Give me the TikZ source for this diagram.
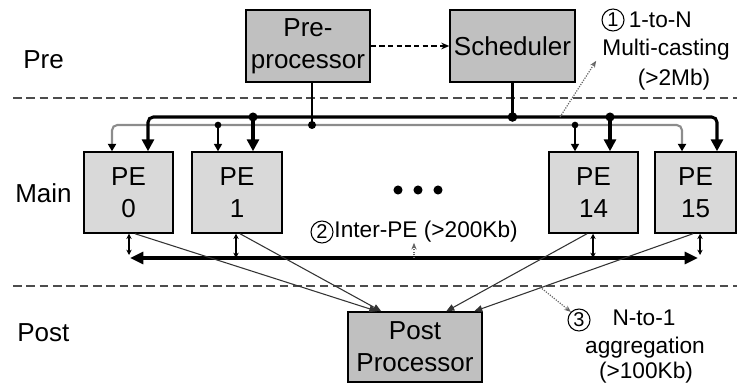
\documentclass[tikz,border=0pt]{standalone}
\usepackage{fontspec}
\setmainfont{Liberation Sans}
\usetikzlibrary{arrows.meta, positioning, calc}
\definecolor{peGray}{HTML}{D9D9D9}
\definecolor{ctlGray}{HTML}{C0C0C0}
\definecolor{busGray}{HTML}{8C8C8C}

\begin{document}
\begin{tikzpicture}[x=0.75pt,y=-0.75pt,
  ctlbox/.style={draw,line width=1.1pt,fill=ctlGray,inner sep=0pt,align=center,font=\fontsize{19.5}{24}\selectfont},
  pebox/.style={draw,line width=1.1pt,fill=peGray,inner sep=0pt,align=center,minimum height=60.75pt,font=\fontsize{19.5}{24}\selectfont},
  stage/.style={anchor=west,inner sep=0pt,font=\fontsize{19.5}{24}\selectfont},
  note/.style={inner sep=0pt,font=\fontsize{17}{20}\selectfont},
  numcirc/.style={circle,draw,line width=0.8pt,inner sep=0pt,minimum size=16.5pt,font=\fontsize{15}{15}\selectfont},
  sep/.style={dash pattern=on 6.5pt off 3.5pt,line width=1.1pt,draw=black!70},
  bigbus/.style={line width=2.3pt,rounded corners=4pt},
  graybus/.style={line width=1.6pt,draw=busGray,rounded corners=4pt},
  bigtip/.style={-{Triangle[length=9pt,width=9pt]}},
  tap/.style={line width=1.1pt,-{Triangle[length=5.5pt,width=6pt]}},
  port/.style={line width=0.9pt,{Stealth[length=4pt,width=4pt]}-{Stealth[length=4pt,width=4pt]}},
  collect/.style={line width=0.8pt,draw=black!80,-{Triangle[length=6pt,width=5pt]}},
  callout/.style={densely dotted,line width=0.9pt,draw=black!60,-{Stealth[length=5pt,width=4pt]}}
]
\useasboundingbox (0,0) rectangle (737,388);

% stages
\draw[sep] (13,98) -- (737,98);
\draw[sep] (13,286) -- (737,286);
\node[stage] (prelab) at (23,60) {Pre};
\node[stage] (mainlab) at (15,193) {Main};
\node[stage] (postlab) at (17,333) {Post};

% control boxes
\node[ctlbox,minimum width=93pt,minimum height=54pt] (pre) at (308,46) {Pre-\\processor};
\node[ctlbox,minimum width=93.75pt,minimum height=54pt] (sched) at (512.5,46) {Scheduler};
\draw[dash pattern=on 4pt off 2.5pt,line width=0.9pt,-{Stealth[length=6pt,width=5pt]}] (pre.east) -- (sched.west);

% PEs
\node[pebox,minimum width=66.75pt] (pe0) at (128.5,192.5) {PE\\0};
\node[pebox,minimum width=67.5pt] (pe1) at (237,192.5) {PE\\1};
\node[pebox,minimum width=66.75pt] (pe14) at (593.5,192.5) {PE\\14};
\node[pebox,minimum width=60.75pt] (pe15) at (695.5,192.5) {PE\\15};
\foreach \x in {398,418,438} \fill (\x,190) circle (3.4pt);

\node[ctlbox,minimum width=100.5pt,minimum height=52.5pt] (post) at (415,347) {Post\\Processor};

% multicast buses
\coordinate (bl) at (148,117); \coordinate (br) at (717,117);
\coordinate (gl) at (112,125); \coordinate (gr) at (682,125);
\coordinate (b1) at (253,117); \coordinate (b14) at (610,117);
\coordinate (g1) at (218,125); \coordinate (g14) at (575,125);
\coordinate (gp) at (312,125);
\coordinate (m1) at (560,117);

\draw[graybus,{Triangle[length=5.5pt,width=6pt,color=black]}-{Triangle[length=5.5pt,width=6pt,color=black]}]
  (pe0.north -| gl) |- (gr) -- (pe15.north -| gr);
\draw[bigbus,{Triangle[length=9pt,width=9pt]}-{Triangle[length=9pt,width=9pt]}]
  (pe0.north -| bl) |- (br) -- (pe15.north -| br);

\draw[line width=1.3pt] (pre.south -| gp) -- (gp);
\fill (gp) circle (3pt);
\draw[line width=2.3pt] (sched.south) -- (sched.south |- bl);
\fill (sched.south |- bl) circle (3.6pt);

\draw[tap] (g1) -- (pe1.north -| g1);
\fill (g1) circle (2.5pt);
\draw[tap] (g14) -- (pe14.north -| g14);
\fill (g14) circle (2.5pt);
\draw[line width=2.3pt,bigtip] (b1) -- (pe1.north -| b1);
\fill (b1) circle (3.4pt);
\draw[line width=2.3pt,bigtip] (b14) -- (pe14.north -| b14);
\fill (b14) circle (3.4pt);

% 1
\node[numcirc] (c1) at (613,20) {1};
\node[note,right=3pt of c1] (t1) {1-to-N};
\node[note] (t1b) at (666,50) {Multi-casting};
\node[note] (t1c) at (674,80) {(>2Mb)};
\draw[callout] (m1) -- ($(t1b.south west)+(-6,0)$);

% inter-PE bus
\coordinate (ql) at (130,258); \coordinate (qr) at (698,258);
\coordinate (q0) at (129,255); \coordinate (q1) at (236,258);
\coordinate (q14) at (593,258); \coordinate (q15) at (700,255);
\coordinate (q2) at (414,258);
\draw[line width=2.3pt,{Triangle[length=10pt,width=9pt]}-{Triangle[length=10pt,width=9pt]}] (ql) -- (qr);
\draw[port] (pe0.south -| q0) -- (q0);
\draw[port] (pe1.south -| q1) -- (q1);
\draw[port] (pe14.south -| q14) -- (q14);
\draw[port] (pe15.south -| q15) -- (q15);

% 2
\node[numcirc] (c2) at (322,232) {2};
\node[note,right=0.5pt of c2] (t2) {Inter-PE (>200Kb)};
\draw[callout] (q2) -- (q2 |- t2.south);

% aggregation
\draw[collect] ($(pe0.south)+(6.5,0)$) -- ($(post.north west)+(30,0)$);
\draw[collect] ($(pe1.south)+(3,0)$) -- ($(post.north west)+(34,0)$);
\draw[collect] ($(pe14.south)+(-6.5,0)$) -- ($(post.north west)+(99,0)$);
\draw[collect] ($(pe15.south)+(-2.5,0)$) -- ($(post.north west)+(127,0)$);

% 3
\coordinate (m3) at (540,287);
\node[numcirc] (c3) at (579,320) {3};
\node[note] (t3) at (644,318) {N-to-1};
\node[note] (t3b) at (645,348) {aggregation};
\node[note] (t3c) at (646,373) {(>100Kb)};
\draw[callout] (m3) -- (c3.north west);

\end{tikzpicture}
\end{document}
